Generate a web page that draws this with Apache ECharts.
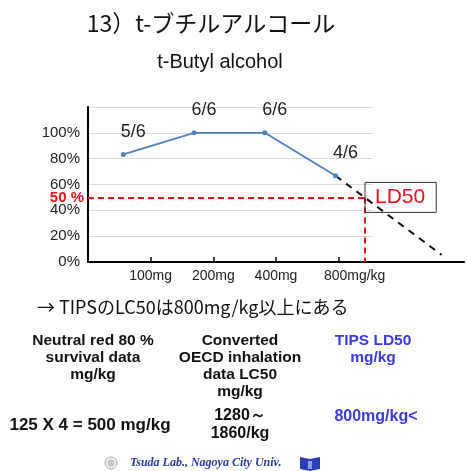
<!DOCTYPE html>
<html>
<head>
<meta charset="utf-8">
<script src="https://cdn.jsdelivr.net/npm/echarts@6/dist/echarts.min.js"></script>
<style>
html,body{margin:0;padding:0;background:#fff;}
#c{width:467px;height:471px;}
</style>
</head>
<body>
<div id="c"></div>
<script>
// ---- data ----
var tickLabels = ['', '100mg', '200mg', '400mg', '800mg/kg', '', ''];
var doses = ['100mg', '200mg', '400mg', '800mg/kg'];
var survival = [83.3, 100, 100, 66.7];           // % survival
var ratios = ['5/6', '6/6', '6/6', '4/6'];
var extrapolation = [[3.5, 66.7], [5.0, 5.5]];     // dashed extrapolated line (dose position, %)
var yTicks = [0, 20, 40, 60, 80, 100];
var ld50Level = 50;

// LD50 position where extrapolated line crosses 50%
var e0 = extrapolation[0], e1 = extrapolation[1];
var ld50X = e0[0] + (e0[1] - ld50Level) / (e0[1] - e1[1]) * (e1[0] - e0[0]);

var seriesData = survival.map(function (v, i) { return [i + 0.5, v]; });

var SANS = '"Liberation Sans", Arial, Helvetica, sans-serif';
var JP = '"Noto Sans CJK JP", sans-serif';
var RED = '#e8141c';
var BLUE = '#3b3be0';

var chart = echarts.init(document.getElementById('c'));
chart.setOption({
  animation: false,
  backgroundColor: '#fff',
  grid: [
    { left: 88, top: 107, width: 285, height: 155 },
    { left: 88, top: 107, right: 0, height: 155 }
  ],
  xAxis: [
    { gridIndex: 0, type: 'value', show: false, min: 0, max: 1 },
    {
      gridIndex: 1, type: 'category', data: tickLabels, boundaryGap: false,
      axisLine: { lineStyle: { color: '#000', width: 2 } },
      axisTick: { inside: true, length: 5, lineStyle: { color: '#000', width: 1.5 },
        interval: function (i, v) { return v !== ''; } },
      axisLabel: { interval: 0, color: '#222', fontSize: 14, fontFamily: SANS, margin: 7,
        formatter: function (v) { return v === '800mg/kg' ? '{r|' + v + '}' : v; },
        rich: { r: { fontSize: 14, fontFamily: SANS, color: '#222', padding: [0, 0, 0, 32] } } },
      splitLine: { show: false }
    },
    { gridIndex: 1, type: 'value', show: false, min: 0, max: 379 / 71.3 }
  ],
  yAxis: [
    {
      gridIndex: 0, type: 'value', min: 0, max: 120, interval: 20,
      axisLine: { show: true, lineStyle: { color: '#000', width: 2 } },
      axisTick: { show: false },
      splitLine: { lineStyle: { color: '#dcdcdc', width: 1 } },
      axisLabel: { color: '#222', fontSize: 15, fontFamily: SANS, margin: 8,
        formatter: function (v) { return yTicks.indexOf(v) >= 0 ? v + '%' : ''; } }
    },
    { gridIndex: 1, type: 'value', min: 0, max: 120, show: false }
  ],
  series: [
    {
      type: 'line', xAxisIndex: 2, yAxisIndex: 1, data: extrapolation,
      symbol: 'none', lineStyle: { color: '#111', width: 2, type: [7, 6] }, z: 3
    },
    {
      type: 'line', xAxisIndex: 2, yAxisIndex: 1, data: seriesData,
      symbol: 'circle', symbolSize: 5,
      itemStyle: { color: '#4f81bd' },
      lineStyle: { color: '#4f81bd', width: 1.8 },
      label: { show: true, position: 'top', offset: [10, -6], fontSize: 18, fontFamily: SANS, color: '#222',
        formatter: function (p) { return ratios[p.dataIndex]; } },
      z: 4,
      markLine: {
        silent: true, symbol: ['none', 'none'], animation: false,
        lineStyle: { color: RED, width: 2, type: [6, 4] },
        data: [
          [{ coord: [0, ld50Level], label: { show: true, position: 'start', distance: 4, formatter: '50 %',
              color: RED, fontWeight: 'bold', fontSize: 15, fontFamily: SANS } },
           { coord: [ld50X, ld50Level] }],
          [{ coord: [ld50X, ld50Level], label: { show: false } }, { coord: [ld50X, 0] }]
        ]
      },
      markPoint: {
        silent: true, animation: false,
        symbol: 'circle', symbolSize: 1, itemStyle: { color: 'rgba(0,0,0,0)' },
        data: [{ coord: [ld50X, ld50Level],
          label: { show: true, position: 'right', distance: 0, formatter: 'LD50',
            color: RED, fontSize: 21, fontFamily: SANS, lineHeight: 22,
            borderColor: '#333', borderWidth: 1, padding: [4, 11, 4, 10] } }]
      }
    }
  ],
  graphic: [
    { type: 'text', style: { text: '13）t-ブチルアルコール', x: 211, y: 23, align: 'center', verticalAlign: 'middle',
        fontSize: 23, fontFamily: JP, fill: '#111' } },
    { type: 'text', style: { text: 't-Butyl alcohol', x: 220, y: 62, align: 'center', verticalAlign: 'middle',
        fontSize: 20, fontFamily: SANS, fill: '#111' } },
    { type: 'text', style: { text: '→ TIPSのLC50は800mg/kg以上にある', x: 37, y: 307, align: 'left', verticalAlign: 'middle',
        fontSize: 18, fontFamily: JP, fill: '#111' } },
    { type: 'text', style: { text: 'Neutral red 80 %\nsurvival data\nmg/kg', x: 93, y: 332, align: 'center', verticalAlign: 'top',
        fontSize: 15.5, fontWeight: 'bold', lineHeight: 17, fontFamily: SANS, fill: '#111' } },
    { type: 'text', style: { text: 'Converted\nOECD inhalation\ndata LC50\nmg/kg', x: 240, y: 332, align: 'center', verticalAlign: 'top',
        fontSize: 15.5, fontWeight: 'bold', lineHeight: 17, fontFamily: SANS, fill: '#111' } },
    { type: 'text', style: { text: 'TIPS LD50\nmg/kg', x: 373, y: 332, align: 'center', verticalAlign: 'top',
        fontSize: 15.5, fontWeight: 'bold', lineHeight: 17, fontFamily: SANS, fill: BLUE } },
    { type: 'text', style: { text: '125 X 4 = 500 mg/kg', x: 90, y: 425, align: 'center', verticalAlign: 'middle',
        fontSize: 17, fontWeight: 'bold', fontFamily: SANS, fill: '#111' } },
    { type: 'text', style: { text: '1280～\n1860/kg', x: 240, y: 407, align: 'center', verticalAlign: 'top',
        fontSize: 16, fontWeight: 'bold', lineHeight: 18, fontFamily: SANS, fill: '#111' } },
    { type: 'text', style: { text: '800mg/kg<', x: 376, y: 417, align: 'center', verticalAlign: 'middle',
        fontSize: 16, fontWeight: 'bold', fontFamily: SANS, fill: BLUE } },
    { type: 'circle', shape: { cx: 111, cy: 463, r: 6 }, style: { fill: '#eee', stroke: '#aaa', lineWidth: 1 } },
    { type: 'circle', shape: { cx: 111, cy: 463, r: 3 }, style: { fill: '#ccc', stroke: '#999', lineWidth: 0.5 } },
    { type: 'text', style: { text: 'Tsuda Lab., Nagoya City Univ.', x: 130, y: 463, align: 'left', verticalAlign: 'middle',
        fontSize: 12, fontWeight: 'bold', fontStyle: 'italic', fontFamily: '"Liberation Serif", "Times New Roman", serif', fill: '#2b3a9c' } },
    { type: 'polygon', shape: { points: [[300, 457], [310, 459], [320, 457], [320, 469], [310, 471], [300, 469]] },
      style: { fill: '#2a3fb0' } },
    { type: 'rect', shape: { x: 308, y: 461, width: 4, height: 8 }, style: { fill: '#8fa0e0' } }
  ]
});
</script>
</body>
</html>
